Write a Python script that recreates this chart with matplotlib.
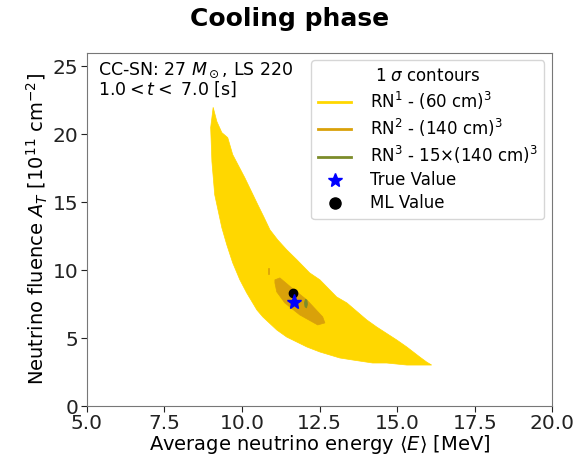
import matplotlib
matplotlib.use("Agg")
import matplotlib.pyplot as plt
from matplotlib.patches import Polygon
from matplotlib.lines import Line2D

# 1-sigma contour of the (60 cm)^3 detector (RN1): boundary vertices (<E> [MeV], A_T)
rn1_E = [9.07, 8.99, 9.03, 9.12, 9.35, 9.51, 9.70, 9.93, 10.15, 10.48, 10.67, 11.12,
         11.44, 12.09, 12.51, 13.15, 13.57, 14.21, 14.66, 15.31, 15.73, 16.11,
         15.95, 15.73, 15.31, 14.99, 14.34, 14.02, 13.38, 13.05, 12.51, 12.18,
         11.77, 11.44, 11.15, 10.90, 10.70, 10.51, 10.09, 9.70, 9.54, 9.35, 9.19]
rn1_A = [21.98, 20.49, 17.98, 15.55, 13.12, 11.86, 10.54, 9.29, 8.33, 7.07, 6.56, 5.60,
         5.08, 4.35, 3.98, 3.54, 3.39, 3.17, 3.17, 3.02, 3.02, 3.02,
         3.24, 3.61, 4.35, 4.86, 5.82, 6.34, 7.59, 8.03, 9.29, 9.80,
         10.76, 11.50, 12.23, 12.97, 13.93, 14.81, 16.80, 18.50, 19.75, 20.12, 20.93]

# 1-sigma contour of the (140 cm)^3 detector (RN2)
rn2_E = [11.06, 11.22, 11.60, 12.09, 12.60, 12.67, 12.44, 11.86, 11.38, 11.12, 11.06]
rn2_A = [9.29, 9.43, 8.70, 7.81, 6.56, 6.12, 5.97, 6.71, 7.59, 8.40, 9.06]
# small detached RN2 island
rn2b_E = [10.83, 10.86, 10.86, 10.83]
rn2b_A = [10.15, 10.15, 9.75, 9.75]

# 1-sigma contour of 15 x (140 cm)^3 (RN3)
rn3_E = [12.04, 12.09, 12.11, 12.08, 12.03, 12.01]
rn3_A = [7.85, 7.80, 7.50, 7.22, 7.30, 7.60]

true_E, true_A = 11.67, 7.64
ml_E, ml_A = 11.65, 8.30

c_rn1 = "#FFD700"
c_rn2 = "#D9A10A"
c_rn3 = "#7C8C2A"

fig = plt.figure(figsize=(5.79, 4.62), dpi=100)
ax = fig.add_axes([0.150, 0.121, 0.804, 0.765])

ax.add_patch(Polygon(list(zip(rn1_E, rn1_A)), closed=True, facecolor=c_rn1,
                     edgecolor=c_rn1, lw=0.5, zorder=1))
ax.add_patch(Polygon(list(zip(rn2_E, rn2_A)), closed=True, facecolor=c_rn2,
                     edgecolor=c_rn2, lw=0.5, zorder=2))
ax.add_patch(Polygon(list(zip(rn2b_E, rn2b_A)), closed=True, facecolor=c_rn2,
                     edgecolor=c_rn2, lw=0.5, zorder=2))
ax.add_patch(Polygon(list(zip(rn3_E, rn3_A)), closed=True, facecolor=c_rn3,
                     edgecolor=c_rn3, lw=0.5, zorder=3))

ax.plot([true_E], [true_A], marker="*", color="blue", markersize=11, ls="none", zorder=5)
ax.plot([ml_E], [ml_A], marker="o", color="black", markersize=6, ls="none", zorder=4)

ax.set_xlim(5, 20)
ax.set_ylim(0, 26)
ax.set_xticks([5.0, 7.5, 10.0, 12.5, 15.0, 17.5, 20.0])
ax.set_yticks([0, 5, 10, 15, 20, 25])
ax.tick_params(labelsize=14.5, colors="#222222", length=4, pad=2)
for s in ax.spines.values():
    s.set_color("#777777")

ax.set_xlabel(r"Average neutrino energy $\langle E\rangle$ [MeV]", fontsize=14, labelpad=0)
ax.set_ylabel(r"Neutrino fluence $A_T$ [$10^{11}$ cm$^{-2}$]", fontsize=14, labelpad=2)
fig.suptitle("Cooling phase", fontsize=18, fontweight="bold", y=0.985)

ax.text(0.025, 0.978, "CC-SN: 27 $M_\\odot$, LS 220\n$1.0 < t <$ 7.0 [s]",
        transform=ax.transAxes, ha="left", va="top", fontsize=12.5, linespacing=1.0)

handles = [
    Line2D([], [], color=c_rn1, lw=2),
    Line2D([], [], color=c_rn2, lw=2),
    Line2D([], [], color=c_rn3, lw=2),
    Line2D([], [], marker="*", color="blue", ls="none", markersize=10),
    Line2D([], [], marker="o", color="black", ls="none", markersize=8),
]
labels = [
    r"RN$^1$ - (60 cm)$^3$",
    r"RN$^2$ - (140 cm)$^3$",
    r"RN$^3$ - 15$\times$(140 cm)$^3$",
    "True Value",
    "ML Value",
]
leg = ax.legend(handles, labels, loc="upper right", title=r"1 $\sigma$ contours",
                fontsize=12, title_fontsize=12, frameon=True, borderpad=0.4,
                labelspacing=0.3, handlelength=2.0, handletextpad=1.1,
                borderaxespad=0, bbox_to_anchor=(0.982, 0.978))
leg.get_frame().set_edgecolor("#cccccc")

fig.savefig("out.png", dpi=100)
